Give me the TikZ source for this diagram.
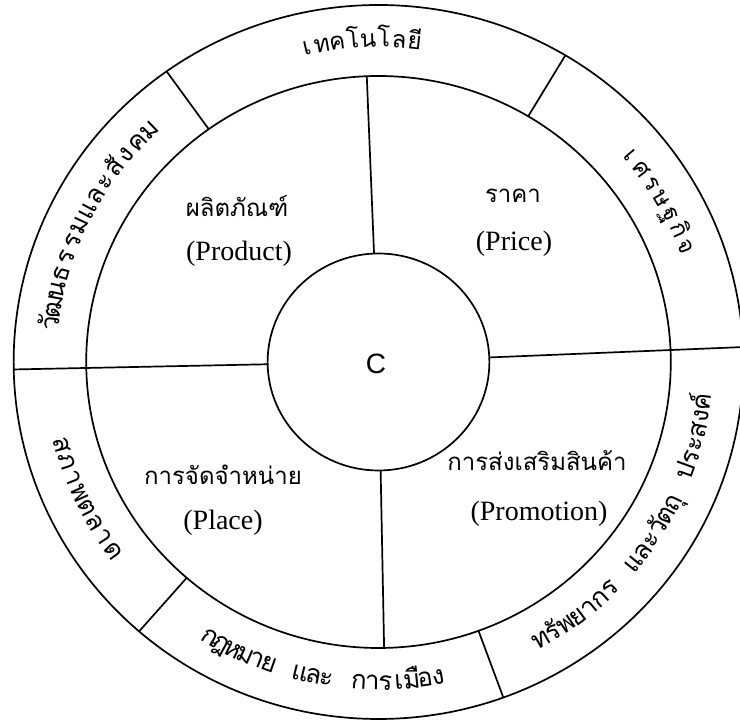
\documentclass[tikz,border=0pt]{standalone}
\usepackage{fontspec}
\setmainfont{Liberation Serif}
\newfontfamily\thaifont[Script=Thai]{Loma}
\newfontfamily\centrefont{Liberation Sans}
\newdimen\chunkw
\newdimen\totw
\newcount\nchunks
\newcommand\ringsize{24}
\newcommand\ringfont{\thaifont\fontsize{\ringsize}{28}\selectfont}
% #1 start angle, #2 end angle, #3 baseline radius, #4 direction (1 ccw, -1 cw), #5 name prefix, #6 chunks
\newcommand\ringtext[6]{%
  \global\totw=0pt\global\nchunks=0\relax
  \foreach \ch in {#6}{\setbox0=\hbox{\ringfont\ch}\global\advance\totw by\wd0\global\advance\nchunks by 1\relax}%
  \pgfmathsetmacro\arclen{abs(#2-#1)*pi/180*#3}%
  \pgfmathsetmacro\totwpt{\the\totw}%
  \pgfmathsetmacro\gapl{(\arclen-\totwpt)/max(\the\nchunks-1,1)}%
  \xdef\curang{#1}%
  \foreach \ch [count=\k] in {#6}{%
    \setbox0=\hbox{\ringfont\ch}\chunkw=\wd0\relax
    \pgfmathsetmacro\cw{\the\chunkw}%
    \pgfmathsetmacro\midang{\curang+(#4)*(\cw/2)/#3*180/pi}%
    \node[ringlabel,anchor=base,rotate=\midang+(#4)*90] (#5\k) at (\midang:#3) {\ch};%
    \pgfmathsetmacro\nxt{\curang+(#4)*(\cw+\gapl)/#3*180/pi}%
    \xdef\curang{\nxt}%
  }%
}
\begin{document}
\begin{tikzpicture}[x=1pt,y=1pt,line width=1.7pt,
  thlabel/.style={font=\thaifont\fontsize{24}{28}\selectfont,inner sep=0pt},
  enlabel/.style={font=\fontsize{28}{32}\selectfont,inner sep=0pt},
  centrelabel/.style={font=\centrefont\fontsize{28}{32}\selectfont,inner sep=0pt},
  ringlabel/.style={font=\ringfont,inner sep=0pt}]
\useasboundingbox (0,0) rectangle (740,722);
\fill[white] (0,0) rectangle (740,722);
\coordinate (O) at (378.5,360);
\begin{scope}[shift={(O)},xscale=1.022]
  % rings
  \draw (0,0) circle (357);
  \draw (0,0) circle (286);
  \draw (0,0) circle (108.5);
  % cross inside the middle ring
  \coordinate (t1) at (92.3:108.5);  \coordinate (t2) at (92.3:286);
  \coordinate (b1) at (271.1:108.5); \coordinate (b2) at (271.1:286);
  \coordinate (l1) at (181.2:108.5); \coordinate (l2) at (181.2:357);
  \coordinate (r1) at (2.4:108.5);   \coordinate (r2) at (2.4:357);
  \draw (t1) -- (t2);
  \draw (b1) -- (b2);
  \draw (l1) -- (l2);
  \draw (r1) -- (r2);
  % dividers of the outer ring
  \coordinate (d1a) at (125.5:286); \coordinate (d1b) at (125.5:357);
  \coordinate (d2a) at (59.2:286);  \coordinate (d2b) at (59.2:357);
  \coordinate (d3a) at (-70:286);   \coordinate (d3b) at (-70:357);
  \coordinate (d4a) at (229:286);   \coordinate (d4b) at (229:357);
  \draw (d1a) -- (d1b);
  \draw (d2a) -- (d2b);
  \draw (d3a) -- (d3b);
  \draw (d4a) -- (d4b);
  % outer ring labels, set along the arcs
  \ringtext{102.6}{83.7}{315}{-1}{tech}{เ,ท,ค,โ,น,โ,ล,ยี}
  \ringtext{40}{21}{315}{-1}{econ}{เ,ศ,ร,ษ,ฐ,กิ,จ}
  \renewcommand\ringsize{26}
  \ringtext{-60.2}{-7.2}{328}{1}{res}{ท,รั,พ,ย,า,ก,ร,\hspace{6pt},แ,ล,ะ,วั,ต,ถุ,\hspace{6pt},ป,ร,ะ,ส,ง,ค์}
  \ringtext{239}{280.5}{328}{1}{law}{ก,ฎ,ห,ม,า,ย,\hspace{6pt},แ,ล,ะ,\hspace{6pt},ก,า,ร,เ,มื,อ,ง}
  \ringtext{195.1}{216.1}{328}{1}{mkt}{ส,ภ,า,พ,ต,ล,า,ด}
  \ringtext{173.1}{134}{315}{-1}{cul}{วั,ฒ,น,ธ,ร,ร,ม,แ,ล,ะ,สั,ง,ค,ม}
\end{scope}
% centre
\node[centrelabel] (C) at (376,358) {C};
% four P labels
\node[thlabel] (prod) at (237,516) {ผลิตภัณฑ์};
\node[enlabel] (prodE) at (239,468) {(Product)};
\node[thlabel] (price) at (513,526) {ราคา};
\node[enlabel] (priceE) at (514,478) {(Price)};
\node[thlabel] (place) at (223,247) {การจัดจำหน่าย};
\node[enlabel] (placeE) at (223,199) {(Place)};
\node[thlabel] (promo) at (537,261) {การส่งเสริมสินค้า};
\node[enlabel] (promoE) at (539,208) {(Promotion)};
\end{tikzpicture}
\end{document}
